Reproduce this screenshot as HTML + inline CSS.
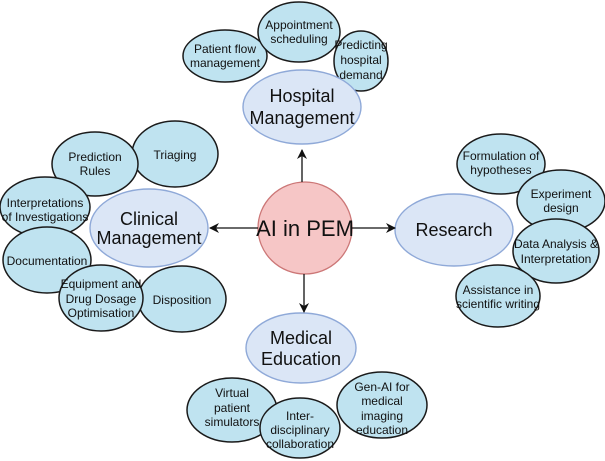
<!DOCTYPE html>
<html><head><meta charset="utf-8"><style>
html,body{margin:0;padding:0;background:#fff;}
svg{display:block;}
text{font-family:"Liberation Sans",Arial,sans-serif;fill:#111;text-anchor:middle;}
.s{fill:#bfe3f0;stroke:#1a1a1a;stroke-width:1.5;}
.m{fill:#dbe6f6;stroke:#8fa9d8;stroke-width:1.4;}
.t{font-size:12px;}
.b{font-size:18px;}
</style></head><body>
<svg width="605" height="461" viewBox="0 0 605 461" xmlns="http://www.w3.org/2000/svg">
<defs><marker id="a" markerWidth="10" markerHeight="10" refX="9" refY="5" orient="auto" markerUnits="userSpaceOnUse"><path d="M0,0 L10,5 L0,10 L3,5 Z" fill="#111"/></marker></defs>
<!-- Hospital -->
<ellipse class="s" cx="225" cy="56" rx="42" ry="26"/>
<text class="t" x="225" y="53">Patient flow</text><text class="t" x="225" y="67">management</text>
<ellipse class="s" cx="299" cy="32" rx="41" ry="30"/>
<text class="t" x="299" y="29">Appointment</text><text class="t" x="299" y="43">scheduling</text>
<ellipse class="s" cx="361" cy="61" rx="27" ry="30"/>
<text class="t" x="361" y="49">Predicting</text><text class="t" x="361" y="64">hospital</text><text class="t" x="361" y="79">demand</text>
<ellipse class="m" cx="302" cy="107" rx="59" ry="37"/>
<text class="b" x="302" y="102">Hospital</text><text class="b" x="302" y="124">Management</text>
<!-- Clinical -->
<ellipse class="s" cx="175" cy="154" rx="43" ry="33"/>
<text class="t" x="175" y="159">Triaging</text>
<ellipse class="s" cx="95" cy="164" rx="43" ry="32"/>
<text class="t" x="95" y="161">Prediction</text><text class="t" x="95" y="175">Rules</text>
<ellipse class="s" cx="45" cy="207" rx="45" ry="30"/>
<text class="t" x="45" y="207">Interpretations</text><text class="t" x="45" y="221">of Investigations</text>
<ellipse class="s" cx="47" cy="260" rx="44" ry="33"/>
<text class="t" x="47" y="265">Documentation</text>
<ellipse class="s" cx="182" cy="299" rx="44" ry="33"/>
<text class="t" x="182" y="304">Disposition</text>
<ellipse class="s" cx="101" cy="298" rx="42" ry="33"/>
<text class="t" x="101" y="288">Equipment and</text><text class="t" x="101" y="303">Drug Dosage</text><text class="t" x="101" y="317">Optimisation</text>
<ellipse class="m" cx="149" cy="228" rx="59" ry="39"/>
<text class="b" x="149" y="225">Clinical</text><text class="b" x="149" y="244">Management</text>
<!-- Research -->
<ellipse class="s" cx="501" cy="164" rx="44" ry="30"/>
<text class="t" x="501" y="160">Formulation of</text><text class="t" x="501" y="174">hypotheses</text>
<ellipse class="s" cx="561" cy="201" rx="44" ry="31"/>
<text class="t" x="561" y="198">Experiment</text><text class="t" x="561" y="212">design</text>
<ellipse class="s" cx="556" cy="251" rx="43" ry="32"/>
<text class="t" x="556" y="248">Data Analysis &amp;</text><text class="t" x="556" y="263">Interpretation</text>
<ellipse class="s" cx="498" cy="296" rx="42" ry="31"/>
<text class="t" x="498" y="294">Assistance in</text><text class="t" x="498" y="308">scientific writing</text>
<ellipse class="m" cx="454" cy="230" rx="59" ry="36"/>
<text class="b" x="454" y="236">Research</text>
<!-- Medical Education -->
<ellipse class="m" cx="301" cy="348" rx="55" ry="35"/>
<text class="b" x="301" y="344">Medical</text><text class="b" x="301" y="365">Education</text>
<ellipse class="s" cx="232" cy="410" rx="45" ry="32"/>
<text class="t" x="232" y="397">Virtual</text><text class="t" x="232" y="412">patient</text><text class="t" x="232" y="426">simulators</text>
<ellipse class="s" cx="382" cy="405" rx="45" ry="33"/>
<text class="t" x="382" y="391">Gen-AI for</text><text class="t" x="382" y="405">medical</text><text class="t" x="382" y="420">imaging</text><text class="t" x="382" y="434">education</text>
<ellipse class="s" cx="300" cy="428" rx="40" ry="30"/>
<text class="t" x="300" y="420">Inter-</text><text class="t" x="300" y="434">disciplinary</text><text class="t" x="300" y="448">collaboration</text>
<!-- Center -->
<ellipse cx="305" cy="228" rx="47" ry="46" fill="#f6c6c6" stroke="#c77" stroke-width="1.3"/>
<text x="305" y="236" style="font-size:22px">AI in PEM</text>
<line x1="302" y1="182" x2="302" y2="150" stroke="#111" stroke-width="1.3" marker-end="url(#a)"/>
<line x1="304" y1="274" x2="304" y2="312" stroke="#111" stroke-width="1.3" marker-end="url(#a)"/>
<line x1="258" y1="228" x2="210" y2="228" stroke="#111" stroke-width="1.3" marker-end="url(#a)"/>
<line x1="352" y1="228" x2="395" y2="228" stroke="#111" stroke-width="1.3" marker-end="url(#a)"/>
</svg>
</body></html>
